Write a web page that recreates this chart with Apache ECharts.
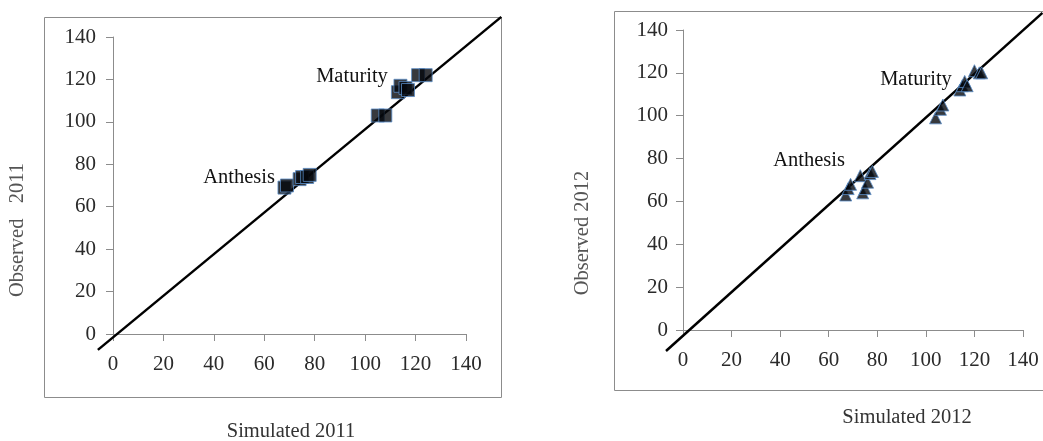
<!DOCTYPE html>
<html>
<head>
<meta charset="utf-8">
<script src="https://cdn.jsdelivr.net/npm/echarts@6/dist/echarts.min.js"></script>
<style>
  html, body { margin: 0; padding: 0; background: #fff; }
  #chart { width: 1043px; height: 441px; }
</style>
</head>
<body>
<div id="chart"></div>
<script>
// tick labels shared by both panels
var axisTicks = [0, 20, 40, 60, 80, 100, 120, 140];

// 2011: simulated vs observed (days)
var anthesis2011 = [[68, 69], [69, 70], [74, 73], [75, 74], [77, 74], [78, 75]];
var maturity2011 = [[105, 103], [108, 103], [113, 114], [114, 117], [116, 116], [117, 115], [121, 122], [124, 122]];
var oneToOne2011 = [[-6, -7.5], [154, 149.5]];

// 2012
var anthesis2012 = [[67, 63], [68, 66], [69, 68], [73, 72], [74, 64], [75, 66], [76, 69], [77, 73], [78, 74]];
var maturity2012 = [[104, 99], [106, 103], [107, 105], [114, 112], [115, 114], [116, 116], [117, 114], [120, 121], [122, 120], [123, 120]];
var oneToOne2012 = [[-7, -9.8], [148, 148]];

var serif = 'Liberation Serif';
var lo = axisTicks[0], hi = axisTicks[axisTicks.length - 1];

// plot areas (pixel layout of the two panels)
var plots = [
  { left: 113, top: 37, width: 353, height: 297, outerBoundsMode: 'none' },
  { left: 683, top: 30, width: 340, height: 300, outerBoundsMode: 'none' }
];

// the 1:1 line runs past the axes to the frame, so it gets a bare grid
// with the same scale but a wider range
var ext = [-12, 158];
function wideGrid(p) {
  var kx = p.width / (hi - lo), ky = p.height / (hi - lo);
  return {
    left: p.left + (ext[0] - lo) * kx,
    top: p.top - (ext[1] - hi) * ky,
    width: (ext[1] - ext[0]) * kx,
    height: (ext[1] - ext[0]) * ky,
    outerBoundsMode: 'none'
  };
}

function makeAxis(idx, isY) {
  return {
    type: 'value',
    gridIndex: idx,
    min: lo,
    max: hi,
    interval: 20,
    splitLine: { show: false },
    axisLine: { show: true, onZero: false, lineStyle: { color: '#8c8c8c', width: 1 } },
    axisTick: { show: true, inside: false, length: 7, lineStyle: { color: '#8c8c8c' } },
    axisLabel: {
      color: '#2a2a2a',
      fontFamily: serif,
      fontSize: 21,
      margin: isY ? (idx === 0 ? 17 : 15) : 20
    }
  };
}

function bareAxis(idx) {
  return { type: 'value', gridIndex: idx, min: ext[0], max: ext[1], show: false };
}

function scatter(idx, data, symbol, size) {
  return {
    type: 'scatter',
    xAxisIndex: idx,
    yAxisIndex: idx,
    data: data,
    symbol: symbol,
    symbolSize: size,
    itemStyle: { color: '#05070d', borderColor: '#5a8cc6', borderWidth: 1 },
    z: 3
  };
}

function diag(idx, data) {
  return {
    type: 'line',
    xAxisIndex: idx,
    yAxisIndex: idx,
    data: data,
    clip: false,
    symbol: 'none',
    lineStyle: { color: '#000', width: 2.5 },
    z: 2
  };
}

function label(x, y, s, size, color, rot) {
  return {
    type: 'text', x: x, y: y, rotation: rot || 0,
    style: { text: s, fill: color, font: size + 'px ' + serif, align: 'center', verticalAlign: 'middle' }
  };
}

var chart = echarts.init(document.getElementById('chart'));
chart.setOption({
  animation: false,
  grid: [plots[0], plots[1], wideGrid(plots[0]), wideGrid(plots[1])],
  xAxis: [makeAxis(0, false), makeAxis(1, false), bareAxis(2), bareAxis(3)],
  yAxis: [makeAxis(0, true), makeAxis(1, true), bareAxis(2), bareAxis(3)],
  graphic: [
    { type: 'rect', shape: { x: 44.5, y: 17.5, width: 457, height: 380 },
      style: { fill: 'none', stroke: '#8c8c8c', lineWidth: 1 } },
    { type: 'rect', shape: { x: 614.5, y: 11.5, width: 440, height: 379 },
      style: { fill: 'none', stroke: '#8c8c8c', lineWidth: 1 } },
    label(18, 230, 'Observed   2011', 20.5, '#555', Math.PI / 2),
    label(291, 432, 'Simulated 2011', 20.5, '#333'),
    label(583, 233, 'Observed 2012', 20.5, '#555', Math.PI / 2),
    label(907, 418, 'Simulated 2012', 20.5, '#333'),
    label(352, 77, 'Maturity', 20.5, '#111'),
    label(239, 178, 'Anthesis', 20.5, '#111'),
    label(916, 80, 'Maturity', 20.5, '#111'),
    label(809, 161, 'Anthesis', 20.5, '#111')
  ],
  series: [
    diag(2, oneToOne2011),
    scatter(0, anthesis2011, 'rect', 13),
    scatter(0, maturity2011, 'rect', 13),
    diag(3, oneToOne2012),
    scatter(1, anthesis2012, 'triangle', 12),
    scatter(1, maturity2012, 'triangle', 12)
  ]
});
</script>
</body>
</html>
